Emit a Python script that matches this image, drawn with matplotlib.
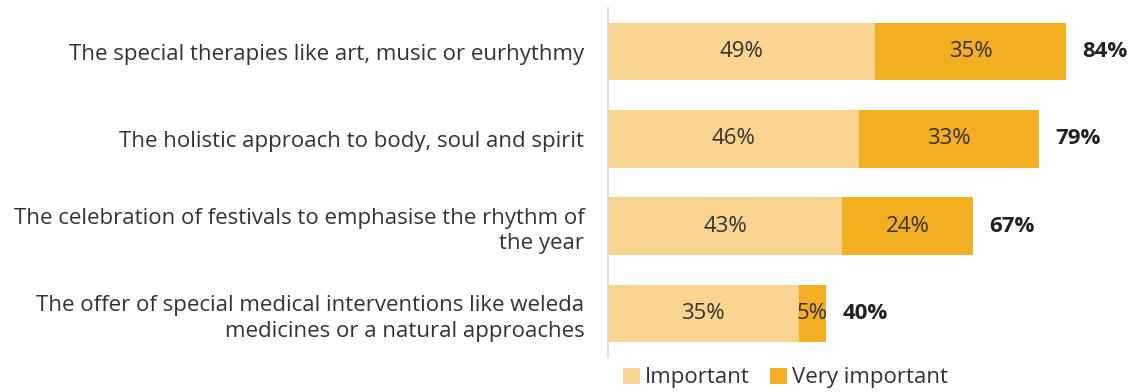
import numpy as np
import matplotlib.pyplot as plt

plt.rcParams['font.family'] = ['Open Sans', 'DejaVu Sans']

categories = ['The special therapies like art, music or eurhythmy',
              'The holistic approach to body, soul and spirit',
              'The celebration of festivals to emphasise the rhythm of\nthe year',
              'The offer of special medical interventions like weleda\nmedicines or a natural approaches']
important = [49, 46, 43, 35]
very_important = [35, 33, 24, 5]
totals = [84, 79, 67, 40]

c_light = '#F9D591'
c_dark = '#F3AE22'
txt = '#333333'
fs = 16

fig = plt.figure(figsize=(11.37, 3.92), dpi=100)
ax = fig.add_axes([608/1137, 1-357/392, 1-608/1137, 349/392])

y = np.arange(len(categories))
b1 = ax.barh(y, important, height=0.66, color=c_light, label='Important')
b2 = ax.barh(y, very_important, left=important, height=0.66, color=c_dark, label='Very important')

for i in range(len(y)):
    ax.text(important[i]/2, y[i], '%d%%' % important[i], ha='center', va='center', fontsize=fs, color=txt)
    ax.text(important[i] + very_important[i]/2, y[i], '%d%%' % very_important[i], ha='center', va='center', fontsize=fs, color=txt)
    ax.text(totals[i] + 3, y[i], '%d%%' % totals[i], ha='left', va='center', fontsize=fs, color='#222222', fontweight='bold')

ax.set_xlim(0, 529/5.45)
ax.set_ylim(3.5, -0.5)
ax.set_yticks(y)
ax.set_yticklabels(categories, fontsize=fs, color=txt, linespacing=1.3)
ax.tick_params(axis='y', length=0, pad=17)
ax.set_xticks([])
for s in ['top', 'right', 'bottom']:
    ax.spines[s].set_visible(False)
ax.spines['left'].set_color('#d9d9d9')
ax.spines['left'].set_linewidth(1.2)

fig.legend(handles=[b1, b2], loc='center left', bbox_to_anchor=(612/1137, 1-378/392), ncol=2, frameon=False,
           fontsize=fs, handlelength=0.75, handleheight=0.75, handletextpad=0.25, columnspacing=0.9,
           borderpad=0, labelcolor=txt)

fig.savefig('out.png', dpi=100)
